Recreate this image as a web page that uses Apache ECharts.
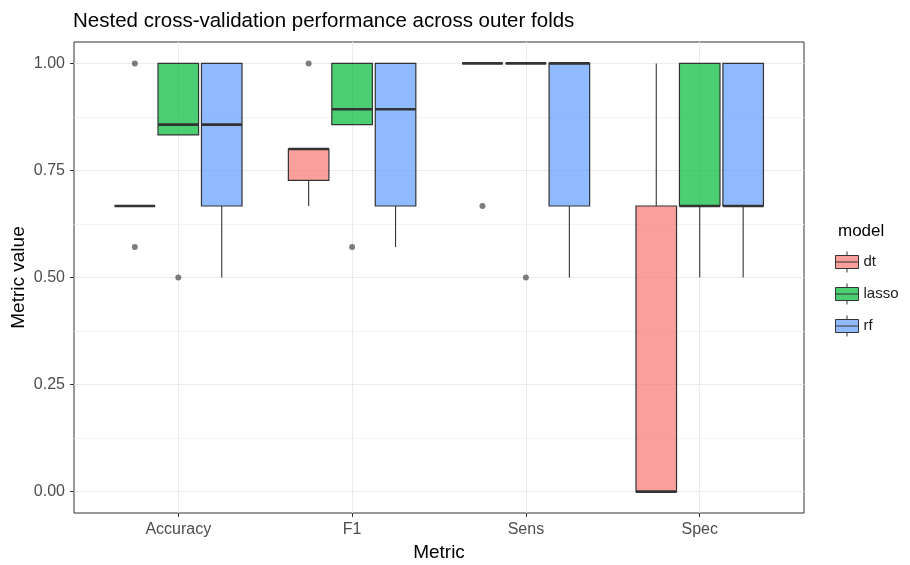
<!DOCTYPE html>
<html>
<head>
<meta charset="utf-8">
<script src="https://cdn.jsdelivr.net/npm/echarts@6/dist/echarts.min.js"></script>
<style>
  html, body { margin: 0; padding: 0; background: #fff; }
  #chart { width: 910px; height: 565px; }
</style>
</head>
<body>
<div id="chart"></div>
<script>
var metrics = ['Accuracy', 'F1', 'Sens', 'Spec'];
var models = ['dt', 'lasso', 'rf'];
var modelColors = ['rgba(248,118,109,0.7)', 'rgba(0,186,56,0.7)', 'rgba(97,156,255,0.7)'];

// [lower whisker, q1, median, q3, upper whisker], one row per metric
var dtStats = [
  [0.667, 0.667, 0.667, 0.667, 0.667],
  [0.667, 0.727, 0.8, 0.8, 0.8],
  [1, 1, 1, 1, 1],
  [0, 0, 0, 0.667, 1]
];
var lassoStats = [
  [0.833, 0.833, 0.857, 1, 1],
  [0.857, 0.857, 0.893, 1, 1],
  [1, 1, 1, 1, 1],
  [0.5, 0.667, 0.667, 1, 1]
];
var rfStats = [
  [0.5, 0.667, 0.857, 1, 1],
  [0.571, 0.667, 0.893, 1, 1],
  [0.5, 0.667, 1, 1, 1],
  [0.5, 0.667, 0.667, 1, 1]
];

// outlier points, one list per metric
var dtOutliers = [[1, 0.571], [1], [0.667], []];
var lassoOutliers = [[0.5], [0.571], [0.5], []];
var rfOutliers = [[], [], [], []];

var yTicks = [0, 0.25, 0.5, 0.75, 1];
var yMinor = [0.125, 0.375, 0.625, 0.875];

var allStats = [dtStats, lassoStats, rfStats];
var allOutliers = [dtOutliers, lassoOutliers, rfOutliers];
var dodge = 0.25;     // distance between dodged boxes
var boxWidth = 0.7 / 3;

function boxItem(params, api) {
  var x = api.value(0);
  var low = api.coord([x, api.value(1)]);
  var q1 = api.coord([x, api.value(2)]);
  var med = api.coord([x, api.value(3)]);
  var q3 = api.coord([x, api.value(4)]);
  var high = api.coord([x, api.value(5)]);
  var w = api.size([boxWidth, 0])[0];
  return {
    type: 'group',
    children: [
      { type: 'line', shape: { x1: high[0], y1: high[1], x2: q3[0], y2: q3[1] }, style: { stroke: '#333', lineWidth: 1.1 } },
      { type: 'line', shape: { x1: q1[0], y1: q1[1], x2: low[0], y2: low[1] }, style: { stroke: '#333', lineWidth: 1.1 } },
      { type: 'rect', shape: { x: q3[0] - w / 2, y: q3[1], width: w, height: q1[1] - q3[1] },
        style: { fill: api.visual('color'), stroke: '#333', lineWidth: 1.2 } },
      { type: 'line', shape: { x1: med[0] - w / 2, y1: med[1], x2: med[0] + w / 2, y2: med[1] }, style: { stroke: '#333', lineWidth: 2.6 } }
    ]
  };
}

var series = [];
models.forEach(function (m, k) {
  var boxData = [];
  var outData = [];
  metrics.forEach(function (name, i) {
    var x = i + 1 + (k - 1) * dodge;
    boxData.push([x].concat(allStats[k][i]));
    allOutliers[k][i].forEach(function (v) { outData.push([x, v]); });
  });
  series.push({
    name: m,
    type: 'custom',
    renderItem: boxItem,
    itemStyle: { color: modelColors[k] },
    encode: { x: 0, y: [1, 2, 3, 4, 5] },
    data: boxData,
    z: 3
  });
  series.push({
    name: m + ' outliers',
    type: 'scatter',
    symbolSize: 6,
    itemStyle: { color: '#5c5c5c' },
    data: outData,
    z: 2
  });
});

var myChart = echarts.init(document.getElementById('chart'));
myChart.setOption({
  animation: false,
  textStyle: { fontFamily: 'Liberation Sans, Arial, sans-serif' },
  title: [
    { text: 'Nested cross-validation performance across outer folds', left: 68, top: 6,
      textStyle: { fontSize: 20.5, fontWeight: 'normal', color: '#000' } },
    { text: 'model', left: 833, top: 218,
      textStyle: { fontSize: 17, fontWeight: 'normal', color: '#000' } }
  ],
  legend: {
    data: models,
    orient: 'vertical',
    left: 835,
    top: 251,
    padding: 0,
    itemWidth: 23,
    itemHeight: 21,
    itemGap: 10,
    icon: 'path://M0,4 L23,4 L23,17 L0,17 Z M0,10.5 L23,10.5 M11.5,0 L11.5,4 M11.5,17 L11.5,21',
    itemStyle: { borderColor: '#333', borderWidth: 1 },
    textStyle: { fontSize: 15, color: '#1a1a1a' },
    selectedMode: false
  },
  grid: { left: 74, top: 42, right: 106, bottom: 52, outerBoundsMode: 'none', containLabel: false,
    show: true, borderColor: '#333', borderWidth: 1 },
  xAxis: {
    type: 'value',
    min: 0.4,
    max: 4.6,
    name: 'Metric',
    nameLocation: 'middle',
    nameGap: 30,
    nameMoveOverlap: false,
    nameTextStyle: { fontSize: 19, color: '#000' },
    axisLine: { show: false, onZero: false },
    axisTick: { show: true, length: 4, customValues: [1, 2, 3, 4], lineStyle: { color: '#333' } },
    axisLabel: { customValues: [1, 2, 3, 4], fontSize: 16, color: '#4d4d4d', margin: 9,
      formatter: function (v) { return metrics[Math.round(v) - 1]; } },
    splitLine: { show: true, lineStyle: { color: '#ebebeb', width: 1 } }
  },
  yAxis: [
    {
      type: 'value',
      min: -0.05,
      max: 1.05,
      name: 'Metric value',
      nameLocation: 'middle',
      nameGap: 46,
      nameMoveOverlap: false,
      nameTextStyle: { fontSize: 19, color: '#000' },
      axisLine: { show: false, onZero: false },
      axisTick: { show: true, length: 4, customValues: yTicks, lineStyle: { color: '#333' } },
      axisLabel: { customValues: yTicks, fontSize: 16, color: '#4d4d4d', margin: 9,
        formatter: function (v) { return v.toFixed(2); } },
      splitLine: { show: true, lineStyle: { color: '#ebebeb', width: 1 } }
    },
    {
      type: 'value',
      min: -0.05,
      max: 1.05,
      axisLine: { show: false, onZero: false },
      axisTick: { show: false, customValues: yMinor },
      axisLabel: { show: false, customValues: yMinor },
      splitLine: { show: true, lineStyle: { color: '#f3f3f3', width: 1 } }
    }
  ],
  series: series
});
</script>
</body>
</html>
